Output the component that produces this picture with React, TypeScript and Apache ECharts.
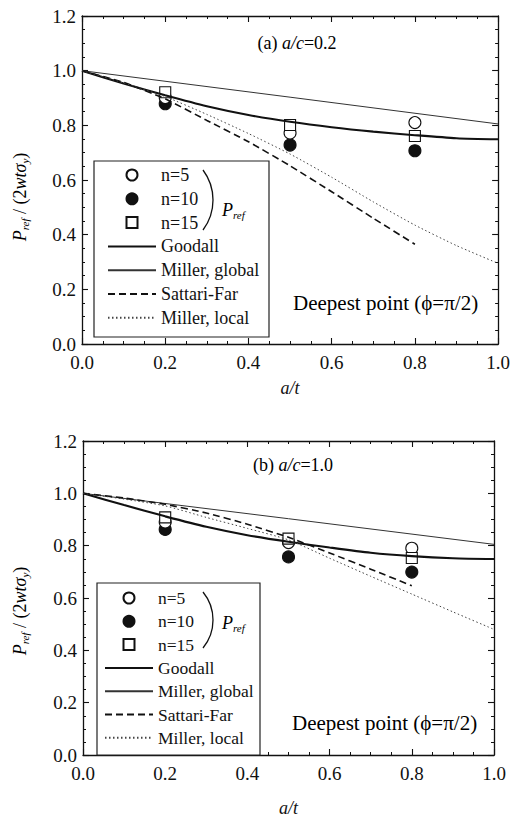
import React, { useEffect, useRef } from "react";
import * as echarts from "echarts";

// ---------- data ----------
const xTicks = [0, 0.1, 0.2, 0.3, 0.4, 0.5, 0.6, 0.7, 0.8, 0.9, 1.0];
const xSattari = [0, 0.1, 0.2, 0.3, 0.4, 0.5, 0.6, 0.7, 0.8];
const xMillerGlobal = [0, 0.5, 1.0];
const xPoints = [0.2, 0.5, 0.8];

// (a) a/c = 0.2
const n5A = [0.902, 0.772, 0.81];
const n10A = [0.879, 0.728, 0.707];
const n15A = [0.921, 0.801, 0.761];
const goodallA = [1.0, 0.953, 0.91, 0.87, 0.838, 0.813, 0.793, 0.777, 0.764, 0.753, 0.749];
const millerGlobalA = [1.0, 0.903, 0.805];
const sattariA = [1.0, 0.957, 0.897, 0.818, 0.74, 0.652, 0.557, 0.46, 0.365];
const millerLocalA = [1.0, 0.955, 0.905, 0.84, 0.77, 0.695, 0.61, 0.52, 0.435, 0.36, 0.295];

// (b) a/c = 1.0
const n5B = [0.89, 0.812, 0.79];
const n10B = [0.862, 0.757, 0.699];
const n15B = [0.908, 0.827, 0.753];
const goodallB = [1.0, 0.955, 0.912, 0.872, 0.84, 0.815, 0.793, 0.773, 0.76, 0.752, 0.749];
const millerGlobalB = [1.0, 0.903, 0.805];
const sattariB = [1.0, 0.982, 0.958, 0.925, 0.882, 0.832, 0.772, 0.71, 0.647];
const millerLocalB = [1.0, 0.978, 0.952, 0.908, 0.866, 0.822, 0.752, 0.683, 0.615, 0.547, 0.48];

const names = ["n=5", "n=10", "n=15", "Goodall", "Miller, global", "Sattari-Far", "Miller, local"];

const FONT = "'Liberation Serif', 'Times New Roman', serif";
const INK = "#111";

const zip = (xs: number[], ys: number[]) => ys.map((y, i) => [xs[i], y]);

function axesFor(grid: number, nameGap: number) {
  const axisLine = { show: true, onZero: false, lineStyle: { color: INK, width: 1.3 } };
  const axisTick = { show: true, inside: true, length: 6, lineStyle: { color: INK, width: 1.1 } };
  const minorTick = { show: true, splitNumber: 4, length: 3, lineStyle: { color: INK, width: 1 } };
  const label = { fontSize: 19, fontFamily: FONT, color: INK };
  const x = [
    {
      type: "value", gridIndex: grid, position: "bottom", min: 0, max: 1, interval: 0.2,
      axisLine, axisTick, minorTick, splitLine: { show: false },
      axisLabel: { ...label, margin: 9, formatter: (v: number) => v.toFixed(1) },
      name: "a/t", nameLocation: "middle", nameGap,
      nameTextStyle: { fontSize: 18, fontFamily: FONT, fontStyle: "italic", color: INK },
    },
    {
      type: "value", gridIndex: grid, position: "top", min: 0, max: 1, interval: 0.2,
      axisLine, axisTick, minorTick, splitLine: { show: false }, axisLabel: { show: false },
    },
  ];
  const y = [
    {
      type: "value", gridIndex: grid, position: "left", min: 0, max: 1.2, interval: 0.2,
      axisLine, axisTick, minorTick, splitLine: { show: false },
      axisLabel: { ...label, margin: 6, formatter: (v: number) => v.toFixed(1) },
    },
    {
      type: "value", gridIndex: grid, position: "right", min: 0, max: 1.2, interval: 0.2,
      axisLine, axisTick, minorTick, splitLine: { show: false }, axisLabel: { show: false },
    },
  ];
  return { x, y };
}

function seriesFor(axisIndex: number, d: any) {
  const common = { xAxisIndex: axisIndex, yAxisIndex: axisIndex };
  const scatter = (name: string, ys: number[], symbol: string, size: number, fill: string, z: number) => ({
    ...common, type: "scatter", name, data: zip(xPoints, ys), symbol, symbolSize: size, z,
    itemStyle: { color: fill, borderColor: INK, borderWidth: 1.1, opacity: 1 },
  });
  const line = (name: string, xs: number[], ys: number[], style: any, smooth: number, z: number) => ({
    ...common, type: "line", name, data: zip(xs, ys), showSymbol: false, symbol: "none", smooth, z,
    lineStyle: style, itemStyle: { color: style.color },
  });
  return [
    scatter("n=5", d.n5, "circle", 12, "#fff", 3),
    scatter("n=10", d.n10, "circle", 12, INK, 2),
    scatter("n=15", d.n15, "rect", 11, "#fff", 4),
    line("Goodall", xTicks, d.goodall, { color: INK, width: 2.1, type: "solid" }, 0.25, 6),
    line("Miller, global", xMillerGlobal, d.millerGlobal, { color: "#333", width: 1, type: "solid" }, 0, 6),
    line("Sattari-Far", xSattari, d.sattari, { color: INK, width: 1.6, type: [7, 4] }, 0.15, 6),
    line("Miller, local", xTicks, d.millerLocal, { color: "#444", width: 1, type: [1.5, 2.5] }, 0.2, 6),
  ];
}

const rich = {
  n: { fontSize: 18, fontFamily: FONT, color: INK, lineHeight: 20 },
  i: { fontSize: 18, fontFamily: FONT, fontStyle: "italic", color: INK, lineHeight: 20 },
  big: { fontSize: 21, fontFamily: FONT, color: INK, lineHeight: 22 },
  sub: { fontSize: 11, fontFamily: FONT, fontStyle: "italic", color: INK, lineHeight: 11, verticalAlign: "bottom" },
};

function decorations(p: any) {
  return [
    {
      type: "rect", shape: { x: p.box[0], y: p.box[1], width: p.box[2], height: p.box[3] },
      style: { fill: "#fff", stroke: "#222", lineWidth: 1.2 }, z: 1,
    },
    {
      type: "arc", shape: { cx: p.arc[0], cy: p.arc[1], r: p.arc[2], startAngle: -p.arc[3], endAngle: p.arc[3], clockwise: true },
      style: { stroke: INK, lineWidth: 1.3, fill: "none" }, z: 20,
    },
    {
      type: "text", x: p.pref[0], y: p.pref[1], z: 20,
      style: { text: "{i|P}{sub|ref}", rich, verticalAlign: "middle", align: "left" },
    },
    {
      type: "text", x: p.title[0], y: p.title[1], z: 20,
      style: { text: p.titleText, rich, align: "center", verticalAlign: "middle" },
    },
    {
      type: "text", x: p.deep[0], y: p.deep[1], z: 20,
      style: { text: "{big|Deepest point (\u03d5=\u03c0/2)}", rich, align: "left", verticalAlign: "middle" },
    },
    {
      type: "text", x: p.ylab[0], y: p.ylab[1], rotation: Math.PI / 2, z: 20,
      style: { text: "{i|P}{sub|ref}{n| / (2}{i|wt\u03c3}{sub|y}{n|)}", rich, align: "center", verticalAlign: "middle" },
    },
  ];
}

const legendData = names.map((name, i) => {
  if (name === "n=15") return { name, icon: "path://M0,0L10,0L10,10L0,10Z" };
  if (i >= 3) return { name, itemStyle: { opacity: 0 } };
  return { name };
});

export default function App() {
  const ref = useRef<HTMLDivElement>(null);
  useEffect(() => {
    if (!ref.current) return;
    const chart = echarts.init(ref.current, null, { renderer: "svg" });
    const aAx = axesFor(0, 35);
    const bAx = axesFor(1, 44);
    const legendCommon = {
      orient: "vertical", data: legendData, itemWidth: 48, itemHeight: 11, padding: 0,
      textStyle: { fontSize: 18, fontFamily: FONT, color: INK, lineHeight: 18 },
      selectedMode: false, z: 10,
    };
    chart.setOption({
      animation: false,
      backgroundColor: "#fff",
      textStyle: { fontFamily: FONT },
      grid: [
        { left: 82, top: 16, width: 419, height: 328 },
        { left: 83, top: 441, width: 411, height: 321 },
      ],
      xAxis: [...aAx.x, ...bAx.x],
      yAxis: [...aAx.y, ...bAx.y],
      legend: [
        { ...legendCommon, left: 107, top: 166, itemGap: 5.8 },
        { ...legendCommon, left: 104, top: 589, itemGap: 5.3, textStyle: { ...legendCommon.textStyle, fontSize: 17.5 } },
      ],
      series: [
        ...seriesFor(0, { n5: n5A, n10: n10A, n15: n15A, goodall: goodallA, millerGlobal: millerGlobalA, sattari: sattariA, millerLocal: millerLocalA }),
        ...seriesFor(2, { n5: n5B, n10: n10B, n15: n15B, goodall: goodallB, millerGlobal: millerGlobalB, sattari: sattariB, millerLocal: millerLocalB }),
      ],
      graphic: [
        ...decorations({
          box: [94, 161, 175, 176], arc: [163, 200, 50, 0.6435], pref: [222, 210],
          title: [297, 43], titleText: "{n|(a) }{i|a/c}{n|=0.2}", deep: [293, 303], ylab: [20, 197],
        }),
        ...decorations({
          box: [97, 583, 163, 172], arc: [168.8, 620, 44.2, 0.686], pref: [222, 623],
          title: [293, 465], titleText: "{n|(b) }{i|a/c}{n|=1.0}", deep: [292, 723], ylab: [20, 611],
        }),
      ],
    });
    return () => chart.dispose();
  }, []);
  return <div ref={ref} style={{ position: "fixed", left: 0, top: 0, width: 513, height: 818 }} />;
}
